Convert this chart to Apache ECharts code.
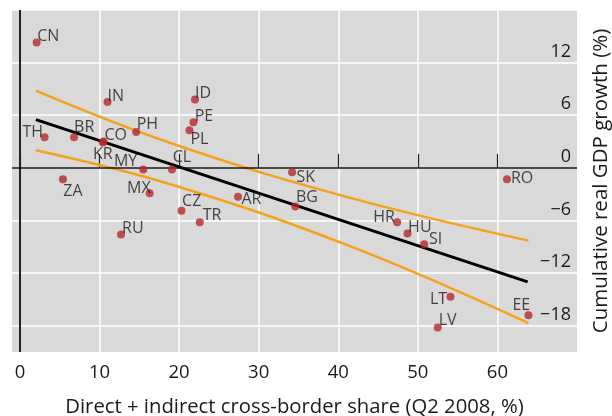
<!DOCTYPE html>
<html><head><meta charset="utf-8">
<script src="https://cdn.jsdelivr.net/npm/echarts@6/dist/echarts.min.js"></script>
<style>html,body{margin:0;padding:0;background:#fff}#c{width:612px;height:416px}</style>
</head><body><div id="c"></div>
<script>
// ---- data ----
const countries = ['CN','IN','TH','BR','CO','KR','MY','PH','CL','ID','PE','PL','SK','AR','BG','CZ','TR','ZA','MX','RU','HR','HU','SI','RO','LT','LV','EE'];
const share  = [2.1, 11.0, 3.1, 6.8, 10.5, 10.4, 15.5, 14.6, 19.1, 22.0, 21.8, 21.3, 34.2, 27.4, 34.6, 20.3, 22.6, 5.4, 16.3, 12.7, 47.4, 48.7, 50.8, 61.2, 54.1, 52.5, 63.9];
const growth = [14.3, 7.5, 3.5, 3.5, 3.0, 2.9, -0.2, 4.1, -0.2, 7.8, 5.2, 4.3, -0.5, -3.3, -4.4, -4.9, -6.2, -1.3, -2.9, -7.6, -6.2, -7.5, -8.7, -1.3, -14.7, -18.2, -16.8];
const fitX = [2.0, 63.8];
const fitY = [5.5, -13.0];
const bandX = [2.0, 19.0, 41.4, 63.9];
const bandUpper = [8.8, 2.8, -3.4, -8.3];
const bandLower = [2.0, -1.9, -8.9, -17.7];
const xTicks = [0, 10, 20, 30, 40, 50, 60];
const yTicks = [-18, -12, -6, 0, 6, 12];
const yGridValues = [-18, -12, -6, 0, 6, 12, 18];

// ---- label placement (style): [align, dx, dy] relative to dot centre ----
const labelPlace = {
  CN:['left',0.6,-5.7], IN:['left',0,-5.5], TH:['right',-1.6,-4.9], BR:['left',0,-9.3], CO:['left',1,-5.8],
  KR:['center',0,12], MY:['right',-6,-8], PH:['left',0.6,-7.5], CL:['left',0.7,-11.7], ID:['left',0,-6.2],
  PE:['left',1.3,-5.8], PL:['left',1,9.5], SK:['left',4.4,5.5], AR:['left',3.4,3], BG:['left',0.7,-9.1],
  CZ:['left',0.6,-9.2], TR:['left',3,-6.3], ZA:['left',0.3,12.3], MX:['right',1,-5.1], RU:['left',1,-6.4],
  HR:['right',-2.3,-5], HU:['left',0.6,-6.3], SI:['left',4.7,-4.8], RO:['left',4,-0.5], LT:['right',-3.4,2.2],
  LV:['left',1,-6.9], EE:['right',1.7,-10.2]
};

const FONT = 'Open Sans';
const DOT = 8;
const scatterData = countries.map((c, i) => {
  const p = labelPlace[c];
  return {
    name: c,
    value: [share[i], growth[i]],
    label: { position: [DOT/2 + p[1], DOT/2 + p[2]], align: p[0], verticalAlign: 'middle' }
  };
});

const minus = v => v < 0 ? '\u2212' + Math.abs(v) : String(v);

const chart = echarts.init(document.getElementById('c'), null, {renderer: 'canvas'});
chart.setOption({
  animation: false,
  textStyle: { fontFamily: FONT },
  grid: { left: 12, right: 35, top: 10, bottom: 64, show: true, backgroundColor: '#d9d9d9', borderWidth: 0,
          containLabel: false, outerBoundsMode: 'none' },
  xAxis: {
    type: 'value', min: -1, max: 70,
    axisLine: { show: false },
    axisTick: { show: true, inside: true, length: 14, customValues: xTicks, lineStyle: { color: '#222', width: 1.2 } },
    splitLine: { show: true, lineStyle: { color: '#ffffff', width: 1.5 } },
    axisLabel: { customValues: xTicks, fontSize: 18.5, color: '#1a1a1a', margin: 11, fontFamily: FONT },
    name: 'Direct + indirect cross-border share (Q2 2008, %)',
    nameLocation: 'middle', nameGap: 45,
    nameTextStyle: { fontSize: 20.3, color: '#1a1a1a', fontFamily: FONT }
  },
  yAxis: {
    type: 'value', position: 'right', min: -21, max: 18,
    axisLine: { show: false },
    axisTick: { show: false, customValues: yGridValues },
    splitLine: { show: true, lineStyle: { color: '#ffffff', width: 1.5 } },
    axisLabel: { inside: true, customValues: yTicks, margin: 6, fontSize: 18, color: '#1a1a1a',
                 verticalAlign: 'bottom', lineHeight: 22, formatter: minus, fontFamily: FONT },
    name: 'Cumulative real GDP growth (%)',
    nameLocation: 'middle', nameGap: 14, nameRotate: 90,
    nameTextStyle: { fontSize: 20.5, color: '#1a1a1a', fontFamily: FONT }
  },
  series: [
    {
      type: 'line', data: bandX.map((x, i) => [x, bandUpper[i]]), smooth: 0.4, symbol: 'none',
      lineStyle: { color: '#f2a21b', width: 2.5 }, z: 3,
      markLine: {
        silent: true, symbol: 'none', label: { show: false },
        lineStyle: { color: '#111', width: 1.5, type: 'solid' },
        data: [{ xAxis: 0, lineStyle: { width: 2, color: '#222' } }, { yAxis: 0 }]
      }
    },
    {
      type: 'line', data: bandX.map((x, i) => [x, bandLower[i]]), smooth: 0.4, symbol: 'none',
      lineStyle: { color: '#f2a21b', width: 2.5 }, z: 3
    },
    {
      type: 'line', data: fitX.map((x, i) => [x, fitY[i]]), symbol: 'none',
      lineStyle: { color: '#000', width: 3 }, z: 4
    },
    {
      type: 'scatter', data: scatterData, symbolSize: DOT, z: 5,
      itemStyle: { color: '#b3292c' },
      label: { show: true, formatter: p => p.name, fontSize: 16, color: '#1a1a1a', fontFamily: FONT }
    }
  ]
});
</script></body></html>
